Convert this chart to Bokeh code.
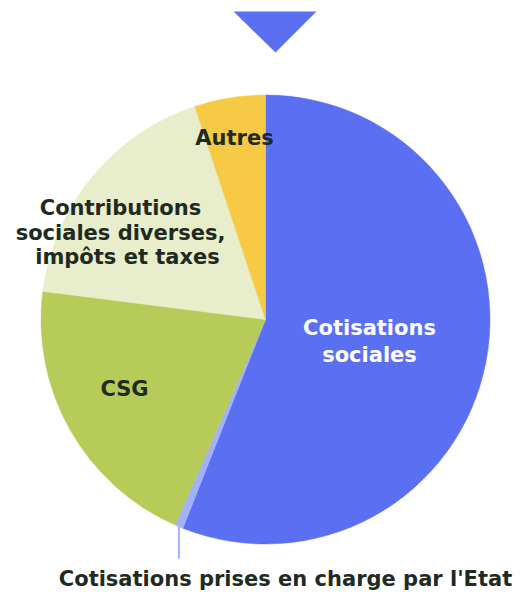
import math
from bokeh.plotting import figure
from bokeh.embed import file_html
from bokeh.resources import INLINE
from bokeh.models import ColumnDataSource, Range1d
from bokeh.core.properties import value

# Data (shares in %, clockwise from 12 o'clock)
categories = ["Cotisations sociales", "Cotisations prises en charge par l'Etat",
              "CSG", "Contributions sociales diverses, impôts et taxes", "Autres"]
shares = [56.0, 0.6, 20.4, 17.9, 5.1]
colors = ["#5b6ff3", "#a3b2f6", "#b7cb58", "#e8eecb", "#f6ca44"]

W, H = 521, 592
cx, cy, r = 265, 273, 224.5

p = figure(width=W, height=H, output_backend="svg", toolbar_location=None,
           x_range=Range1d(0, W), y_range=Range1d(0, H), min_border=0)
p.axis.visible = False
p.grid.visible = False
p.outline_line_color = None
p.background_fill_color = "white"

total = sum(shares)
starts, ends = [], []
cum = 0.0
for s in shares:
    a0 = math.pi / 2 - 2 * math.pi * cum / total
    cum += s
    a1 = math.pi / 2 - 2 * math.pi * cum / total
    starts.append(a0)
    ends.append(a1)

src = ColumnDataSource(dict(cat=categories, start=starts, end=ends, color=colors))
p.wedge(x=cx, y=cy, radius=r, start_angle="start", end_angle="end",
        direction="clock", fill_color="color", line_color="color", line_width=0.5,
        source=src)

# pointer triangle on top
p.patch([233, 316, 275], [581, 581, 540], fill_color="#5b6ff3", line_color=None)

# leader line for the small slice
mid = (starts[1] + ends[1]) / 2
lx = cx + r * math.cos(mid)
ly = cy + r * math.sin(mid)
p.segment(x0=[lx], y0=[ly], x1=[lx], y1=[34], line_color="#a3b2f6", line_width=2)

font = value("DejaVu Sans")
dark = "#1f2a20"

def label(x, y, txt, color=dark, size="21px", align="center"):
    p.text(x=[x], y=[y], text=[txt], text_font=font, text_font_style="bold",
           text_font_size=size, text_color=color, text_align=align,
           text_baseline="alphabetic")

label(234, 455, "Autres")
label(120, 385, "Contributions")
label(120, 360, "sociales diverses,")
label(127, 336, "impôts et taxes")
label(369, 265, "Cotisations", color="white")
label(369, 238, "sociales", color="white")
label(124, 204, "CSG")
label(285, 14, "Cotisations prises en charge par l'Etat")

open("out.html", "w").write(file_html(p, INLINE))
